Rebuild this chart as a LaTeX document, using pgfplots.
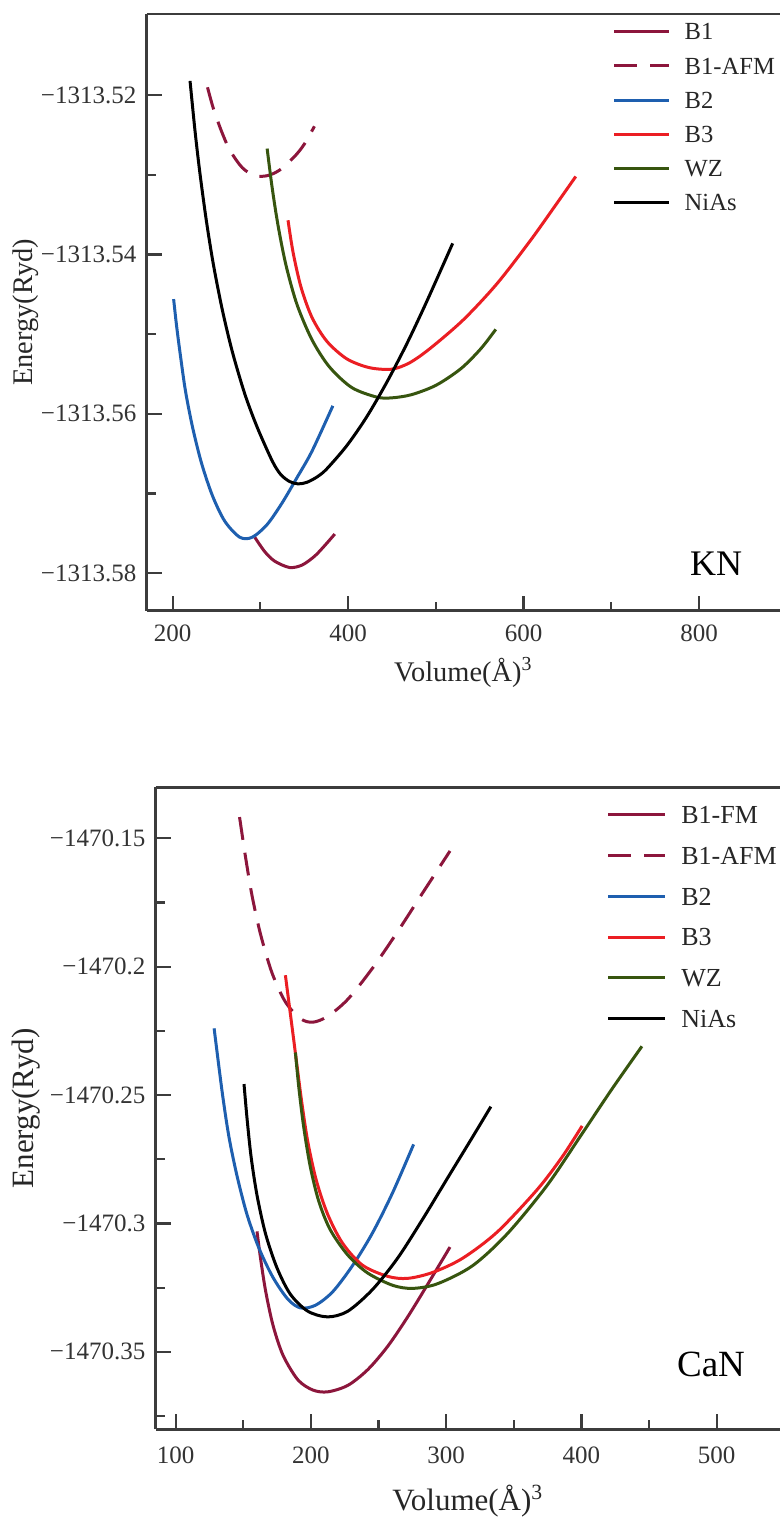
\documentclass[border=0pt]{standalone}
\usepackage{pgfplots}
\pgfplotsset{compat=1.18}
\usepackage{fontspec}
\setmainfont{Liberation Serif}
\definecolor{cB1}{RGB}{140,22,60}
\definecolor{cB2}{RGB}{30,95,175}
\definecolor{cB3}{RGB}{235,30,35}
\definecolor{cWZ}{RGB}{55,85,15}
\definecolor{axgray}{RGB}{60,60,60}
% keep only the fractional part of the (negative, four-digit integer part) energies
% so that the tiny energy differences are plotted without loss of precision
\def\etrafo#1{\edef\tmpval{#1}\expandafter\testY\tmpval Y\endtest}
\def\testY#1Y#2\endtest{%
  \if\relax\detokenize{#2}\relax
    \expandafter\rawstrip\tmpval\relax
  \else
    \expandafter\fpustrip\tmpval\relax
  \fi}
\def\rawstrip#1.#2\relax{\def\pgfmathresult{-0.#2}}
\def\fpustrip#1Y#2.#3#4#5#6e#7]#8\relax{\def\pgfmathresult{-0.#6}}
\pgfplotsset{
  common/.style={
    scale only axis,
    anchor=north west,
    y coord trafo/.code={\etrafo{##1}},
    axis x line*=box, axis y line*=left,
    axis line style={-, line width=1.3pt, draw=axgray},
    xtick pos=left, ytick pos=left,
    tick align=inside,
    major tick length=7.5pt, minor tick length=4.5pt,
    every tick/.style={line width=1.1pt, axgray},
    tick label style={font=\fontsize{12.5}{15}\selectfont, text=black!80},
    yticklabel style={inner sep=0pt, anchor=east, xshift=-5pt},
    legend cell align=left,
    legend image code/.code={\draw[##1] (0pt,0pt) -- (27.5pt,0pt);},
    every axis plot/.append style={line width=1.5pt, smooth, no markers},
  },
  afm/.style={cB1, dash pattern=on 11.5pt off 6.5pt},
}
\begin{document}
\begin{tikzpicture}
\useasboundingbox (0,0) rectangle (390pt,-758.5pt);
%================ KN =================
\begin{axis}[common,
  at={(73.35pt,-7pt)}, width=316.65pt, height=298.25pt,
  xmin=170.4, xmax=892.3, ymin=-1313.5847, ymax=-1313.5098,
  label style={font=\fontsize{14.2}{17}\selectfont, text=black!85},
  xtick={200,400,600,800}, xticklabels={200,400,600,800},
  minor xtick={300,500,700},
  xticklabel style={inner sep=0pt, anchor=north, yshift=-7pt},
  ytick={-1313.58,-1313.56,-1313.54,-1313.52},
  yticklabels={−1313.58,−1313.56,−1313.54,−1313.52},
  minor ytick={-1313.57,-1313.55,-1313.53},
  xlabel={Volume(Å)\textsuperscript{3}},
  ylabel={Energy(Ryd)},
  xlabel style={at={(axis description cs:0.5,0)}, anchor=base, yshift=-35.25pt},
  ylabel style={at={(axis description cs:-0.1906,0.5)}, anchor=center},
  legend style={draw=none, fill=none, at={(0.7363,0.999)}, anchor=north west,
    inner sep=0pt, outer sep=0pt, row sep=0pt, column sep=6.85pt,
    font=\fontsize{12.3}{14}\selectfont,
    nodes={inner sep=0pt, text height=12.62pt, text depth=4.48pt, text=black!85}},
]
\addplot[cB1] coordinates {(293.6,-1313.5755)(304.9,-1313.5773)(316.2,-1313.5785)(333.2,-1313.5793)(347.4,-1313.5790)(361.6,-1313.5779)(372.9,-1313.5766)(384.8,-1313.5751)};
\addlegendentry{B1}
\addplot[afm] coordinates {(239.7,-1313.5190)(246.5,-1313.5217)(255.6,-1313.5245)(265.2,-1313.5269)(279.4,-1313.5291)(293.6,-1313.5301)(307.7,-1313.5301)(321.9,-1313.5294)(338.9,-1313.5277)(350.3,-1313.5261)(361.6,-1313.5239)};
\addlegendentry{B1-AFM}
\addplot[cB2] coordinates {(201.1,-1313.5456)(204.5,-1313.5490)(209.1,-1313.5529)(214.7,-1313.5572)(222.7,-1313.5617)(232.9,-1313.5662)(245.4,-1313.5703)(259.5,-1313.5735)(276.5,-1313.5755)(290.7,-1313.5755)(307.7,-1313.5739)(324.7,-1313.5712)(341.8,-1313.5680)(358.8,-1313.5647)(382.6,-1313.5590)};
\addlegendentry{B2}
\addplot[cB3] coordinates {(331.5,-1313.5357)(337.2,-1313.5397)(346.3,-1313.5441)(358.8,-1313.5479)(375.8,-1313.5509)(398.5,-1313.5531)(424.0,-1313.5542)(449.5,-1313.5544)(470.0,-1313.5536)(493.4,-1313.5518)(531.3,-1313.5482)(569.4,-1313.5437)(607.4,-1313.5383)(637.8,-1313.5336)(659.5,-1313.5302)};
\addlegendentry{B3}
\addplot[cWZ] coordinates {(307.7,-1313.5267)(313.4,-1313.5316)(320.2,-1313.5364)(329.3,-1313.5414)(341.8,-1313.5463)(358.8,-1313.5507)(378.6,-1313.5541)(404.1,-1313.5567)(432.5,-1313.5579)(449.5,-1313.5580)(472.2,-1313.5576)(500.5,-1313.5564)(528.9,-1313.5543)(551.5,-1313.5518)(568.3,-1313.5494)};
\addlegendentry{WZ}
\addplot[black] coordinates {(219.8,-1313.5182)(225.5,-1313.5245)(231.2,-1313.5299)(238.6,-1313.5359)(246.5,-1313.5413)(256.7,-1313.5470)(268.0,-1313.5522)(282.2,-1313.5575)(296.4,-1313.5617)(313.4,-1313.5659)(323.0,-1313.5676)(333.2,-1313.5685)(343.0,-1313.5688)(353.1,-1313.5686)(365.0,-1313.5679)(375.8,-1313.5669)(398.5,-1313.5640)(421.1,-1313.5604)(443.8,-1313.5561)(466.5,-1313.5513)(489.2,-1313.5460)(519.2,-1313.5386)};
\addlegendentry{NiAs}
\node[anchor=base, font=\fontsize{18}{20}\selectfont] at (rel axis cs:0.899,0.0595) {KN};
\end{axis}
%================ CaN =================
\begin{axis}[common,
  at={(77.85pt,-393.65pt)}, width=312.15pt, height=321pt,
  xmin=85.2, xmax=546.8, ymin=-1470.3802, ymax=-1470.1301,
  label style={font=\fontsize{15.5}{18}\selectfont, text=black!85},
  xtick={100,200,300,400,500}, xticklabels={100,200,300,400,500},
  minor xtick={150,250,350,450},
  xticklabel style={inner sep=0pt, anchor=north, yshift=-8.6pt},
  ytick={-1470.35,-1470.3,-1470.25,-1470.2,-1470.15},
  yticklabels={−1470.35,−1470.3,−1470.25,−1470.2,−1470.15},
  minor ytick={-1470.375,-1470.325,-1470.275,-1470.225,-1470.175},
  xlabel={Volume(Å)\textsuperscript{3}},
  ylabel={Energy(Ryd)},
  xlabel style={at={(axis description cs:0.5,0)}, anchor=base, yshift=-40.35pt},
  ylabel style={at={(axis description cs:-0.2078,0.5)}, anchor=center},
  legend style={draw=none, fill=none, at={(0.7224,0.9886)}, anchor=north west,
    inner sep=0pt, outer sep=0pt, row sep=0pt, column sep=7.5pt,
    font=\fontsize{13}{15}\selectfont,
    nodes={inner sep=0pt, text height=14.48pt, text depth=5.88pt, text=black!85}},
  legend image code/.code={\draw[#1] (0pt,0pt) -- (28.3pt,0pt);},
]
\addplot[cB1] coordinates {(160.1,-1470.3031)(162.7,-1470.3135)(166.4,-1470.3261)(171.9,-1470.3396)(179.3,-1470.3513)(190.3,-1470.3609)(201.4,-1470.3649)(212.4,-1470.3656)(227.2,-1470.3631)(241.9,-1470.3570)(256.7,-1470.3479)(271.4,-1470.3365)(286.2,-1470.3238)(302.8,-1470.3092)};
\addlegendentry{B1-FM}
\addplot[afm] coordinates {(147.2,-1470.1417)(151.6,-1470.1572)(156.4,-1470.1722)(162.7,-1470.1873)(171.2,-1470.2024)(181.1,-1470.2137)(192.2,-1470.2202)(201.4,-1470.2216)(212.4,-1470.2193)(227.2,-1470.2127)(245.6,-1470.2005)(264.1,-1470.1863)(282.5,-1470.1713)(302.8,-1470.1549)};
\addlegendentry{B1-AFM}
\addplot[cB2] coordinates {(128.4,-1470.2240)(131.3,-1470.2363)(135.0,-1470.2513)(139.4,-1470.2664)(145.3,-1470.2814)(152.7,-1470.2965)(161.6,-1470.3097)(171.9,-1470.3210)(182.9,-1470.3295)(192.2,-1470.3329)(203.2,-1470.3319)(216.1,-1470.3266)(230.9,-1470.3163)(245.6,-1470.3036)(260.4,-1470.2880)(275.9,-1470.2692)};
\addlegendentry{B2}
\addplot[cB3] coordinates {(181.1,-1470.2033)(183.7,-1470.2140)(186.6,-1470.2258)(189.6,-1470.2382)(193.3,-1470.2532)(197.7,-1470.2683)(204.0,-1470.2833)(212.4,-1470.2965)(223.5,-1470.3078)(238.2,-1470.3163)(256.7,-1470.3206)(271.4,-1470.3214)(289.9,-1470.3191)(312.0,-1470.3136)(337.8,-1470.3033)(367.3,-1470.2868)(385.7,-1470.2741)(400.5,-1470.2620)};
\addlegendentry{B3}
\addplot[cWZ] coordinates {(188.5,-1470.2334)(191.1,-1470.2474)(194.7,-1470.2627)(199.5,-1470.2779)(205.8,-1470.2914)(214.3,-1470.3025)(227.2,-1470.3123)(241.9,-1470.3193)(260.4,-1470.3241)(275.1,-1470.3253)(293.5,-1470.3235)(319.4,-1470.3165)(345.2,-1470.3040)(374.7,-1470.2851)(400.5,-1470.2650)(422.6,-1470.2476)(444.7,-1470.2310)};
\addlegendentry{WZ}
\addplot[black] coordinates {(150.5,-1470.2457)(152.7,-1470.2589)(155.7,-1470.2739)(160.1,-1470.2890)(166.4,-1470.3040)(174.8,-1470.3172)(184.8,-1470.3276)(197.7,-1470.3342)(212.4,-1470.3364)(227.2,-1470.3342)(245.6,-1470.3257)(264.1,-1470.3135)(282.5,-1470.2984)(300.9,-1470.2824)(319.4,-1470.2664)(333.0,-1470.2545)};
\addlegendentry{NiAs}
\node[anchor=base, font=\fontsize{18.5}{20}\selectfont] at (rel axis cs:0.8895,0.083) {CaN};
\end{axis}
\end{tikzpicture}
\end{document}
